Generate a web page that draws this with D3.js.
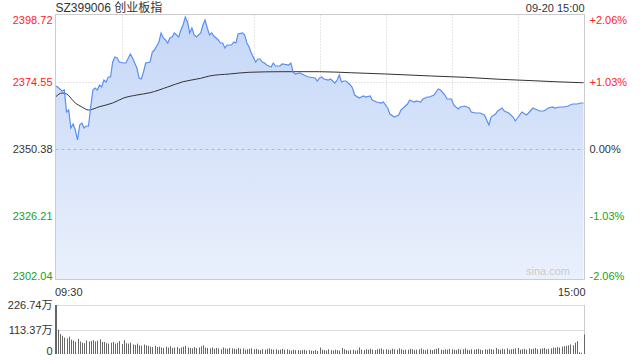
<!DOCTYPE html>
<html><head><meta charset="utf-8">
<script src="https://cdn.jsdelivr.net/npm/d3@7"></script>
<style>body{margin:0;background:#fff} svg{display:block;font-family:"Liberation Sans",Arial,"Noto Sans CJK SC",sans-serif}</style>
</head><body><svg id="c" width="640" height="360"></svg>
<script>
const title = "SZ399006 创业板指";
const stamp = "09-20 15:00";
const preClose = 2350.38;
const priceTicks = [2302.04, 2326.21, 2350.38, 2374.55, 2398.72];
const pctTicks = ["-2.06%", "-1.03%", "0.00%", "+1.03%", "+2.06%"];
const timeTicks = [0, 240];
const timeLabels = ["09:30", "15:00"];
const volTicks = [0, 113.37, 226.74];
const volTickLabels = ["0", "113.37万", "226.74万"];

// [minute index, price]
const priceSeries = [[0,2373.11],[1,2372.75],[3,2371.30],[4,2371.66],[5,2363.73],[6,2364.45],[7,2357.96],[8,2359.40],[9,2357.23],[10,2353.63],[11,2359.04],[12,2359.76],[13,2357.96],[14,2358.68],[15,2358.68],[16,2365.53],[17,2371.66],[18,2372.39],[19,2371.66],[20,2373.47],[21,2372.75],[22,2375.27],[23,2374.55],[24,2376.35],[25,2376.35],[26,2381.77],[27,2383.57],[28,2383.21],[29,2381.77],[31,2381.40],[32,2381.40],[34,2384.65],[35,2383.21],[37,2379.60],[38,2375.99],[39,2375.63],[40,2378.16],[41,2381.40],[43,2381.77],[44,2385.37],[45,2386.09],[47,2388.98],[48,2392.23],[49,2390.42],[50,2389.70],[51,2388.62],[52,2390.42],[53,2390.78],[54,2392.23],[56,2390.78],[57,2393.31],[58,2395.11],[59,2398.00],[60,2396.20],[61,2392.23],[62,2394.03],[63,2391.51],[64,2390.78],[66,2392.23],[67,2395.11],[68,2396.92],[69,2394.03],[70,2391.51],[71,2392.23],[72,2391.14],[74,2389.70],[75,2388.62],[76,2388.62],[77,2386.82],[78,2387.90],[80,2387.90],[81,2388.98],[82,2388.62],[83,2391.87],[85,2392.23],[86,2391.51],[87,2388.62],[88,2387.18],[89,2385.01],[91,2381.77],[92,2382.85],[93,2382.85],[94,2381.77],[95,2381.40],[96,2380.68],[98,2379.96],[99,2381.40],[100,2380.32],[102,2380.32],[103,2381.04],[106,2380.68],[107,2381.40],[108,2378.16],[109,2377.44],[111,2377.80],[113,2377.08],[115,2376.35],[118,2375.99],[119,2374.91],[120,2375.99],[121,2376.35],[122,2375.63],[124,2375.27],[125,2375.63],[127,2374.19],[128,2375.27],[129,2377.08],[130,2374.55],[131,2374.91],[132,2374.91],[134,2373.47],[135,2372.39],[136,2369.86],[138,2368.78],[140,2369.50],[141,2369.14],[143,2369.50],[144,2368.06],[146,2367.34],[148,2366.97],[149,2367.34],[151,2365.17],[152,2363.01],[154,2361.92],[156,2362.65],[157,2364.45],[159,2365.89],[160,2366.61],[161,2368.06],[163,2367.34],[164,2367.70],[166,2367.34],[167,2368.42],[169,2369.14],[170,2369.14],[172,2369.86],[174,2372.03],[175,2371.66],[177,2369.86],[178,2368.42],[180,2368.42],[181,2366.25],[183,2364.81],[184,2365.53],[186,2365.89],[188,2365.17],[189,2363.73],[191,2363.37],[193,2363.37],[195,2362.65],[196,2360.84],[197,2359.04],[198,2361.92],[200,2363.01],[201,2364.09],[203,2365.17],[204,2364.09],[206,2363.37],[208,2361.92],[209,2360.48],[211,2362.65],[212,2363.73],[214,2362.65],[215,2363.37],[217,2365.17],[218,2364.81],[220,2364.09],[222,2364.09],[224,2365.17],[226,2365.53],[227,2365.17],[229,2365.53],[231,2365.53],[233,2365.89],[235,2366.61],[237,2366.61],[239,2366.97],[240,2366.97]];

// [minute index, average price]
const avgSeries = [[0,2369.14],[3,2370.58],[5,2370.22],[9,2366.97],[12,2365.53],[15,2364.45],[20,2365.64],[26,2366.97],[31,2368.78],[37,2369.86],[43,2370.69],[51,2372.75],[58,2374.66],[66,2375.88],[70,2376.71],[79,2377.44],[88,2378.05],[103,2378.27],[120,2378.27],[134,2377.90],[150,2377.44],[171,2376.71],[186,2376.25],[202,2375.52],[217,2375.02],[239,2374.30],[240,2374.28]];

// volume per minute (万)
const volumes = [226.74,113,92,84,76,72,80,66,62,56,
70,58,52,50,62,58,60,64,58,62,
68,56,56,50,48,52,56,48,52,60,
46,64,50,48,52,44,42,48,40,38,
44,40,38,34,32,38,32,34,30,28,
34,30,36,28,30,32,26,30,34,38,
30,28,26,32,28,30,36,40,30,28,
26,30,24,28,26,22,30,26,24,28,
26,24,22,28,24,26,20,22,24,26,
22,24,20,18,22,20,24,26,22,20,
22,18,20,24,20,22,18,16,20,18,
18,16,18,20,16,18,16,14,18,14,
30,20,18,16,22,18,16,20,18,16,
28,22,18,16,18,20,16,18,30,20,
18,22,20,24,20,18,22,24,26,20,
22,20,18,24,22,20,26,22,18,20,
20,24,22,18,20,22,26,20,18,22,
20,18,22,24,28,20,18,22,20,24,
22,20,18,24,20,22,26,20,18,22,
20,22,24,20,18,22,20,24,22,20,
28,22,20,24,22,26,20,22,24,26,
28,20,22,24,20,26,22,24,28,22,
24,26,28,22,24,26,30,28,32,30,
34,36,38,40,44,40,52,60,8,6,
90];

const RED = "#f22", GREEN = "#1a9f1a", TXT = "#333";
const svg = d3.select("#c");
const L = 55.5, R = 584.5, T = 14.5, B = 279.5;

const x = d3.scaleLinear().domain([0, 240]).range([L, 583.5]);
const y = d3.scaleLinear().domain([priceTicks[0], priceTicks[4]]).range([283, 15]);
const yv = d3.scaleLinear().domain([0, volTicks[2]]).range([354, 305]);

const defs = svg.append("defs");
const grad = defs.append("linearGradient").attr("id", "g").attr("x1", 0).attr("y1", 0).attr("x2", 0).attr("y2", 1);
grad.append("stop").attr("offset", "0%").attr("stop-color", "#c5d7f7");
grad.append("stop").attr("offset", "100%").attr("stop-color", "#eaf0fc");
defs.append("clipPath").attr("id", "clip").append("rect").attr("x", L).attr("y", T).attr("width", R - L).attr("height", B - T);

// grid
const g = svg.append("g");
[30, 60, 90, 120, 150, 180, 210].forEach(m => {
  g.append("line").attr("x1", Math.round(x(m)) + 0.5).attr("x2", Math.round(x(m)) + 0.5)
    .attr("y1", T).attr("y2", B).attr("stroke", "#ccc").attr("stroke-dasharray", "1,2");
});
[priceTicks[1], priceTicks[3]].forEach(v => {
  g.append("line").attr("x1", L).attr("x2", R).attr("y1", Math.round(y(v)) + 0.5).attr("y2", Math.round(y(v)) + 0.5)
    .attr("stroke", "#ccc").attr("stroke-dasharray", "1,2");
});

// area + line
const plot = svg.append("g").attr("clip-path", "url(#clip)");
plot.append("path").datum(priceSeries)
  .attr("d", d3.area().x(d => x(d[0])).y0(B).y1(d => y(d[1])))
  .attr("fill", "url(#g)");
plot.append("line").attr("x1", L).attr("x2", R).attr("y1", Math.round(y(preClose)) + 0.5).attr("y2", Math.round(y(preClose)) + 0.5)
  .attr("stroke", "#f0a884").attr("stroke-dasharray", "3,3");
plot.append("path").datum(avgSeries)
  .attr("d", d3.line().x(d => x(d[0])).y(d => y(d[1])).curve(d3.curveMonotoneX))
  .attr("fill", "none").attr("stroke", "#333").attr("stroke-width", 1);
plot.append("path").datum(priceSeries)
  .attr("d", d3.line().x(d => x(d[0])).y(d => y(d[1])))
  .attr("fill", "none").attr("stroke", "#5a8ef0").attr("stroke-width", 1.2);

// frame
svg.append("rect").attr("x", L).attr("y", T).attr("width", R - L).attr("height", B - T)
  .attr("fill", "none").attr("stroke", "#ccc");

// watermark
svg.append("text").attr("x", 570).attr("y", 275).attr("text-anchor", "end")
  .attr("font-size", 11).attr("fill", "#ccc").text("sina.com");

// left axis
const colorFor = (i) => i < 2 ? GREEN : (i > 2 ? RED : TXT);
const la = svg.append("g").attr("transform", `translate(${L},0)`)
  .call(d3.axisLeft(y).tickValues(priceTicks).tickSize(0).tickPadding(3).tickFormat(d3.format(".2f")));
la.select(".domain").remove();
la.selectAll("text").attr("font-size", 11).attr("font-family", "Liberation Sans, Arial")
  .attr("fill", (d, i) => colorFor(i))
  .attr("dy", (d, i) => i === 4 ? "0.75em" : (i === 0 ? "-0.3em" : "0.32em"));

// right axis
const ra = svg.append("g").attr("transform", `translate(${R},0)`)
  .call(d3.axisRight(y).tickValues(priceTicks).tickSize(0).tickPadding(5).tickFormat((d, i) => pctTicks[i]));
ra.select(".domain").remove();
ra.selectAll("text").attr("font-size", 11).attr("font-family", "Liberation Sans, Arial")
  .attr("fill", (d, i) => colorFor(i))
  .attr("dy", (d, i) => i === 4 ? "0.75em" : (i === 0 ? "-0.3em" : "0.32em"));

// time axis
const ta = svg.append("g").attr("transform", `translate(0,${B + 6})`)
  .call(d3.axisBottom(x).tickValues(timeTicks).tickSize(0).tickPadding(3).tickFormat((d, i) => timeLabels[i]));
ta.select(".domain").remove();
ta.selectAll("text").attr("font-size", 11).attr("font-family", "Liberation Sans, Arial").attr("fill", TXT)
  .attr("text-anchor", (d, i) => i === 0 ? "start" : "end")
  .attr("dx", (d, i) => i === 0 ? -1 : 1.5);

// title
svg.append("text").attr("x", L).attr("y", 12).attr("font-size", 12).attr("fill", TXT)
  .attr("font-family", "Liberation Sans, Noto Sans CJK SC").text(title);
svg.append("text").attr("x", R).attr("y", 12).attr("font-size", 11).attr("fill", TXT)
  .attr("text-anchor", "end").text(stamp);

// volume panel
const vg = svg.append("g");
[volTicks[1], volTicks[2]].forEach(v => {
  vg.append("line").attr("x1", L).attr("x2", R).attr("y1", Math.round(yv(v)) + 0.5).attr("y2", Math.round(yv(v)) + 0.5)
    .attr("stroke", "#bbb").attr("stroke-dasharray", "1,1");
});
vg.append("line").attr("x1", R).attr("x2", R).attr("y1", 305).attr("y2", 354).attr("stroke", "#ccc");
vg.selectAll("rect.v").data(volumes).join("rect").attr("class", "v")
  .attr("x", (d, i) => Math.round(x(i)))
  .attr("width", 1)
  .attr("y", d => yv(d))
  .attr("height", d => yv(0) - yv(d))
  .attr("fill", "#666");
vg.append("line").attr("x1", L).attr("x2", L).attr("y1", 305).attr("y2", 354).attr("stroke", "#666");

const va = svg.append("g").attr("transform", `translate(${L},0)`)
  .call(d3.axisLeft(yv).tickValues(volTicks).tickSize(0).tickPadding(3).tickFormat((d, i) => volTickLabels[i]));
va.select(".domain").remove();
va.selectAll("text").attr("font-size", 11).attr("font-family", "Liberation Sans, Noto Sans CJK SC").attr("fill", TXT)
  .attr("dy", (d, i) => i === 0 ? "0.05em" : "0.32em");
</script></body></html>
